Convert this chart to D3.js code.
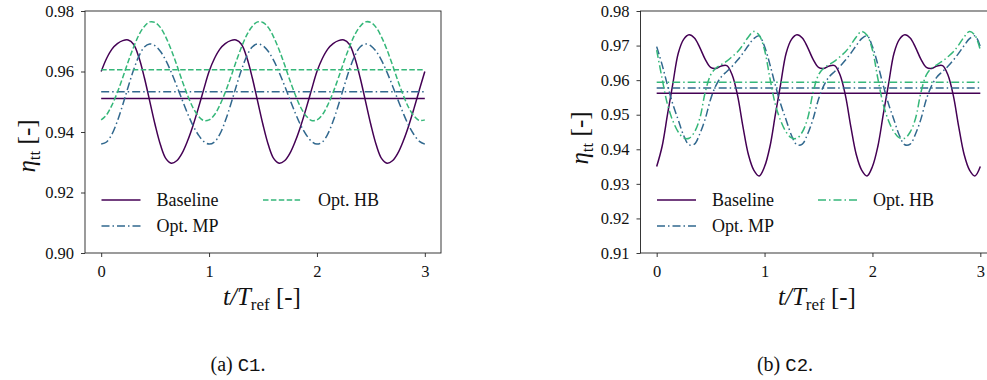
<!DOCTYPE html>
<html><head><meta charset="utf-8">
<script src="https://cdn.jsdelivr.net/npm/d3@7"></script>
<style>
html,body{margin:0;padding:0;background:#fff;}
svg{display:block;}
text{font-family:"Liberation Serif","DejaVu Serif",serif;fill:#111;}
</style></head>
<body>
<svg id="chart" width="987" height="380"></svg>
<script>
// ---------- DATA ----------
const seriesNames = ["Baseline", "Opt. MP", "Opt. HB"];
const xTicks = [0, 1, 2, 3];
const yTicksC1 = [0.90, 0.92, 0.94, 0.96, 0.98];
const yTicksC2 = [0.91, 0.92, 0.93, 0.94, 0.95, 0.96, 0.97, 0.98];
const timeGrid = d3.range(61).map(i => +(i * 0.05).toFixed(2)); // t/T_ref sample points

// Case C1
const c1Baseline = [
 0.9600,0.9643,0.9674,0.9692,0.9702,0.9704,0.9690,0.9646,0.9580,0.9502,0.9424,0.9357,0.9312,0.9297,0.9305,0.9330,0.9370,0.9420,0.9478,0.9540,
 0.9600,0.9643,0.9674,0.9692,0.9702,0.9704,0.9690,0.9646,0.9580,0.9502,0.9424,0.9357,0.9312,0.9297,0.9305,0.9330,0.9370,0.9420,0.9478,0.9540,
 0.9600,0.9643,0.9674,0.9692,0.9702,0.9704,0.9690,0.9646,0.9580,0.9502,0.9424,0.9357,0.9312,0.9297,0.9305,0.9330,0.9370,0.9420,0.9478,0.9540,
 0.9600];
const c1OptMP = [
 0.9360,0.9367,0.9393,0.9436,0.9490,0.9549,0.9605,0.9651,0.9681,0.9691,0.9685,0.9666,0.9636,0.9597,0.9553,0.9507,0.9462,0.9422,0.9391,0.9369,
 0.9360,0.9367,0.9393,0.9436,0.9490,0.9549,0.9605,0.9651,0.9681,0.9691,0.9685,0.9666,0.9636,0.9597,0.9553,0.9507,0.9462,0.9422,0.9391,0.9369,
 0.9360,0.9367,0.9393,0.9436,0.9490,0.9549,0.9605,0.9651,0.9681,0.9691,0.9685,0.9666,0.9636,0.9597,0.9553,0.9507,0.9462,0.9422,0.9391,0.9369,
 0.9360];
const c1OptHB = [
 0.9440,0.9457,0.9489,0.9531,0.9580,0.9632,0.9680,0.9721,0.9749,0.9764,0.9762,0.9745,0.9713,0.9671,0.9622,0.9570,0.9522,0.9481,0.9453,0.9438,
 0.9440,0.9457,0.9489,0.9531,0.9580,0.9632,0.9680,0.9721,0.9749,0.9764,0.9762,0.9745,0.9713,0.9671,0.9622,0.9570,0.9522,0.9481,0.9453,0.9438,
 0.9440,0.9457,0.9489,0.9531,0.9580,0.9632,0.9680,0.9721,0.9749,0.9764,0.9762,0.9745,0.9713,0.9671,0.9622,0.9570,0.9522,0.9481,0.9453,0.9438,
 0.9440];
const c1Means = [0.9511, 0.9533, 0.9606];

// Case C2
const c2Baseline = [
 0.9350,0.9408,0.9500,0.9590,0.9678,0.9718,0.9731,0.9722,0.9694,0.9660,0.9637,0.9634,0.9641,0.9642,0.9615,0.9555,0.9465,0.9385,0.9340,0.9323,
 0.9350,0.9408,0.9500,0.9590,0.9678,0.9718,0.9731,0.9722,0.9694,0.9660,0.9637,0.9634,0.9641,0.9642,0.9615,0.9555,0.9465,0.9385,0.9340,0.9323,
 0.9350,0.9408,0.9500,0.9590,0.9678,0.9718,0.9731,0.9722,0.9694,0.9660,0.9637,0.9634,0.9641,0.9642,0.9615,0.9555,0.9465,0.9385,0.9340,0.9323,
 0.9350];
const c2OptMP = [
 0.9697,0.9645,0.9585,0.9530,0.9485,0.9440,0.9413,0.9415,0.9445,0.9488,0.9545,0.9585,0.9610,0.9625,0.9640,0.9658,0.9678,0.9700,0.9720,0.9728,
 0.9697,0.9645,0.9585,0.9530,0.9485,0.9440,0.9413,0.9415,0.9445,0.9488,0.9545,0.9585,0.9610,0.9625,0.9640,0.9658,0.9678,0.9700,0.9720,0.9728,
 0.9697,0.9645,0.9585,0.9530,0.9485,0.9440,0.9413,0.9415,0.9445,0.9488,0.9545,0.9585,0.9610,0.9625,0.9640,0.9658,0.9678,0.9700,0.9720,0.9728,
 0.9697];
const c2OptHB = [
 0.9687,0.9605,0.9530,0.9482,0.9450,0.9433,0.9432,0.9450,0.9490,0.9565,0.9615,0.9635,0.9645,0.9655,0.9668,0.9682,0.9702,0.9725,0.9741,0.9730,
 0.9687,0.9605,0.9530,0.9482,0.9450,0.9433,0.9432,0.9450,0.9490,0.9565,0.9615,0.9635,0.9645,0.9655,0.9668,0.9682,0.9702,0.9725,0.9741,0.9730,
 0.9687,0.9605,0.9530,0.9482,0.9450,0.9433,0.9432,0.9450,0.9490,0.9565,0.9615,0.9635,0.9645,0.9655,0.9668,0.9682,0.9702,0.9725,0.9741,0.9730,
 0.9687];
const c2Means = [0.9562, 0.9577, 0.9594];

// ---------- STYLE ----------
const colors = ["#440154", "#31688e", "#35b779"];
const DASHDOT = "8,3,1.5,3";
const DASHED = "5.5,2.4";
const SERIF = "Liberation Serif, DejaVu Serif, serif";

const svg = d3.select("#chart");
svg.append("rect").attr("width", 987).attr("height", 380).attr("fill", "#fff");

function panel(cfg) {
  const x = d3.scaleLinear().domain([-0.15, 3.15]).range([cfg.left, cfg.left + 356]);
  const y = d3.scaleLinear().domain(cfg.yDomain).range([253, 11]);
  const g = svg.append("g");

  const clipId = "clip" + cfg.id;
  svg.append("clipPath").attr("id", clipId).append("rect")
    .attr("x", x.range()[0]).attr("y", 11).attr("width", 356).attr("height", 242);

  const plot = g.append("g").attr("clip-path", `url(#${clipId})`);
  const line = d3.line().x((d, i) => x(timeGrid[i])).y(d => y(d)).curve(d3.curveCatmullRom.alpha(0.5));

  cfg.series.forEach((s, k) => {
    plot.append("path").datum(s)
      .attr("d", line).attr("fill", "none")
      .attr("stroke", colors[k]).attr("stroke-width", 1.5)
      .attr("stroke-dasharray", cfg.dash[k]);
    plot.append("line")
      .attr("x1", x(0)).attr("x2", x(3))
      .attr("y1", y(cfg.means[k])).attr("y2", y(cfg.means[k]))
      .attr("stroke", colors[k]).attr("stroke-width", 1.5)
      .attr("stroke-dasharray", cfg.dash[k]);
  });

  // box
  g.append("rect").attr("x", x.range()[0]).attr("y", 11)
    .attr("width", 356).attr("height", 242)
    .attr("fill", "none").attr("stroke", "#222").attr("stroke-width", 0.9);

  // axes
  const xa = g.append("g").attr("transform", "translate(0,253)")
    .call(d3.axisBottom(x).tickValues(xTicks).tickSize(4).tickPadding(8).tickFormat(d3.format("d")));
  const ya = g.append("g").attr("transform", `translate(${x.range()[0]},0)`)
    .call(d3.axisLeft(y).tickValues(cfg.yTicks).tickSize(4).tickPadding(7).tickFormat(d3.format(".2f")));
  [xa, ya].forEach(a => {
    a.attr("font-family", SERIF);
    a.select(".domain").remove();
    a.selectAll("line").attr("stroke", "#222").attr("stroke-width", 0.9);
    a.selectAll("text").attr("font-family", SERIF)
      .attr("font-size", 16.5).attr("fill", "#222");
  });

  // y label
  const yl = g.append("text")
    .attr("transform", `translate(${cfg.ylabX},${cfg.ylabY}) rotate(-90)`)
    .attr("text-anchor", "middle").attr("font-size", 25);
  yl.append("tspan").attr("font-style", "italic").text("η");
  yl.append("tspan").attr("font-size", 17).attr("dy", 5).text("tt");
  yl.append("tspan").attr("dy", -5).text(" [-]");

  // x label
  const xl = g.append("text").attr("x", cfg.xlabX).attr("y", 305)
    .attr("text-anchor", "middle").attr("font-size", 25);
  xl.append("tspan").attr("font-style", "italic").text("t/T");
  xl.append("tspan").attr("font-size", 17).attr("dy", 5).text("ref");
  xl.append("tspan").attr("dy", -5).text(" [-]");

  // legend
  const leg = [
    {k: 0, lx: cfg.left + 16.5, ly: 200},
    {k: 1, lx: cfg.left + 16.5, ly: 226},
    {k: 2, lx: cfg.leg2X, ly: 200}
  ];
  leg.forEach(o => {
    g.append("line").attr("x1", o.lx).attr("x2", o.lx + 39)
      .attr("y1", o.ly).attr("y2", o.ly)
      .attr("stroke", colors[o.k]).attr("stroke-width", 1.5)
      .attr("stroke-dasharray", cfg.dash[o.k]);
    g.append("text").attr("x", o.lx + 55).attr("y", o.ly + 6)
      .attr("font-size", 18).attr("fill", "#222").text(seriesNames[o.k]);
  });

  // caption
  const cap = g.append("text").attr("x", cfg.capX).attr("y", 371)
    .attr("text-anchor", "middle").attr("font-size", 20);
  cap.append("tspan").text(cfg.capA + " ");
  cap.append("tspan").attr("font-family", "Liberation Mono, DejaVu Sans Mono, monospace").attr("font-size", 19).text(cfg.capB);
  cap.append("tspan").text(".");
}

panel({
  id: 1, left: 85, yDomain: [0.90, 0.98], yTicks: yTicksC1,
  series: [c1Baseline, c1OptMP, c1OptHB], means: c1Means,
  dash: [null, DASHDOT, DASHED],
  ylabX: 35, ylabY: 146, xlabX: 262, leg2X: 263, capX: 238, capA: "(a)", capB: "C1"
});
panel({
  id: 2, left: 640.5, yDomain: [0.91, 0.98], yTicks: yTicksC2,
  series: [c2Baseline, c2OptMP, c2OptHB], means: c2Means,
  dash: [null, DASHDOT, DASHDOT],
  ylabX: 588, ylabY: 138, xlabX: 817, leg2X: 818, capX: 785, capA: "(b)", capB: "C2"
});
</script>
</body></html>
